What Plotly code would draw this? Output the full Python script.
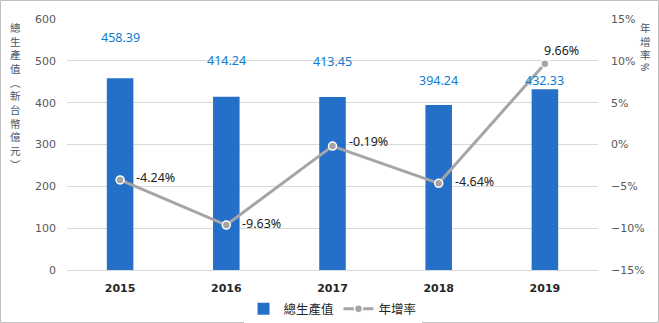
import plotly.graph_objects as go

years = ["2015", "2016", "2017", "2018", "2019"]
output_value = [458.39, 414.24, 413.45, 394.24, 432.33]
growth_rate = [-4.24, -9.63, -0.19, -4.64, 9.66]

left_title = "總生產值︵新台幣億元︶"
right_title = "年增率"
right_unit = "%"

bar_label_shift = [41, 36, 36, 25, 9]

W, H = 659, 323
ML, MR, MT, MB = 67, 61, 19, 53
PW, PH = W - ML - MR, H - MT - MB

xi = list(range(len(years)))

tick_font = dict(family="DejaVu Sans, Verdana, sans-serif", size=11, color="#595959")
num_font = "Noto Sans, sans-serif"

fig = go.Figure()
fig.add_trace(go.Bar(
    x=xi, y=output_value, name="總生產值", width=0.25,
    marker=dict(color="#2470c8", line=dict(width=0)),
    yaxis="y",
))
fig.add_trace(go.Scatter(
    x=xi, y=growth_rate, name="年增率", mode="lines+markers",
    line=dict(color="#a5a5a5", width=3),
    marker=dict(size=8, color="#a5a5a5", line=dict(color="white", width=1.5)),
    yaxis="y2",
))

annotations = []
for i, (v, s) in enumerate(zip(output_value, bar_label_shift)):
    annotations.append(dict(
        x=i, y=v, xref="x", yref="y", text=f"{v:.2f}", showarrow=False,
        yanchor="middle", yshift=s, font=dict(family=num_font, size=12.5, color="#0f7cd0"),
    ))

for i, g in enumerate(growth_rate):
    if i == len(growth_rate) - 1:
        annotations.append(dict(
            x=i, y=g, xref="x", yref="y2", text=f"{g:.2f}%", showarrow=False,
            xanchor="left", yanchor="middle", xshift=-3, yshift=13,
            font=dict(family=num_font, size=12.5, color="#222222"),
        ))
    else:
        annotations.append(dict(
            x=i, y=g, xref="x", yref="y2", text=f"{g:.2f}%", showarrow=False,
            xanchor="left", yanchor="middle", xshift=14, yshift=5 if i == 2 else 2,
            font=dict(family=num_font, size=12.5, color="#222222"),
        ))

title_font = dict(family="Noto Sans CJK TC, sans-serif", size=10.5, color="#44546a")
annotations.append(dict(
    x=-52 / PW, y=1 + 1 / PH, xref="paper", yref="paper",
    xanchor="center", yanchor="top", text="<br>".join(left_title), showarrow=False,
    font=title_font,
))
annotations.append(dict(
    x=1 + 47 / PW, y=1 + 1 / PH, xref="paper", yref="paper",
    xanchor="center", yanchor="top", text="<br>".join(right_title), showarrow=False,
    font=title_font,
))
annotations.append(dict(
    x=1 + 47 / PW, y=1 - (67 - MT) / PH, xref="paper", yref="paper",
    xanchor="center", yanchor="middle", text=right_unit, showarrow=False,
    font=dict(family="Noto Sans, sans-serif", size=10, color="#44546a"), textangle=90,
))

fig.update_layout(
    width=W, height=H,
    margin=dict(l=ML, r=MR, t=MT, b=MB, pad=0, autoexpand=False),
    paper_bgcolor="white", plot_bgcolor="white",
    showlegend=True,
    legend=dict(orientation="h", x=0.5, xanchor="center", y=-(309 - (H - MB)) / PH, yanchor="middle",
                font=dict(family="Noto Sans CJK TC, sans-serif", size=12.5, color="#262626"),
                itemwidth=30, traceorder="normal"),
    xaxis=dict(range=[-0.5, len(years) - 0.5], tickvals=xi, ticktext=years,
               showgrid=False, showline=False, zeroline=False, ticks="", automargin=False,
               tickfont=dict(family="DejaVu Sans, Verdana, sans-serif", size=11, color="#262626", weight="bold"),
               ticklabelstandoff=10),
    yaxis=dict(range=[0, 600], dtick=100, showgrid=True, gridcolor="#d9d9d9", gridwidth=1,
               zeroline=True, zerolinecolor="#d9d9d9", zerolinewidth=1, automargin=False,
               tickfont=tick_font, ticklabelstandoff=10),
    yaxis2=dict(range=[-15, 15], dtick=5, overlaying="y", side="right", showgrid=False,
                zeroline=False, ticksuffix="%", tickfont=tick_font, ticklabelstandoff=12,
                automargin=False),
    annotations=annotations,
    shapes=[dict(type="rect", xref="paper", yref="paper",
                 x0=-(ML - 0.5) / PW, x1=1 + (MR - 0.5) / PW,
                 y0=-(MB - 0.5) / PH, y1=1 + (MT - 0.5) / PH,
                 line=dict(color="#bfbfbf", width=1), layer="below")],
)

fig.write_html("out.html")
